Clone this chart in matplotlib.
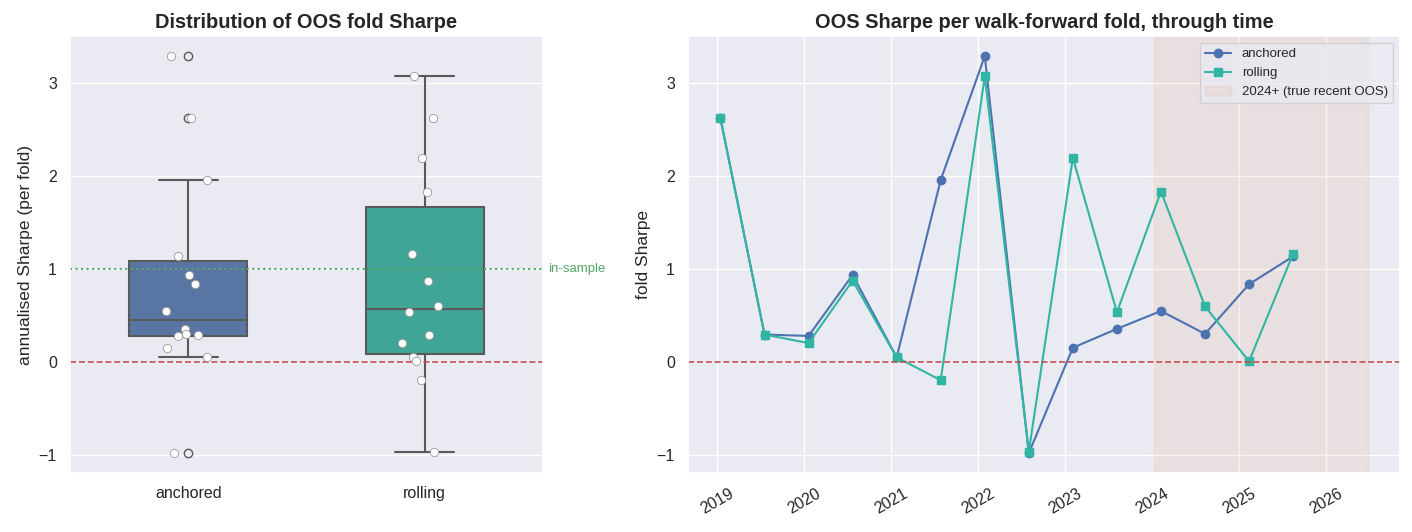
import numpy as np
import pandas as pd
import matplotlib
matplotlib.use("Agg")
import matplotlib.pyplot as plt
import seaborn as sns

# fold start dates (semiannual walk-forward folds)
fold_dates = ["2019-01-15", "2019-07-19", "2020-01-20", "2020-07-23", "2021-01-24",
              "2021-07-28", "2022-01-29", "2022-08-02", "2023-02-03", "2023-08-07",
              "2024-02-08", "2024-08-11", "2025-02-12", "2025-08-16"]
anchored = [2.62, 0.295, 0.28, 0.936, 0.05, 1.957, 3.29, -0.98, 0.153, 0.356,
            0.548, 0.302, 0.836, 1.135]
rolling = [2.62, 0.295, 0.203, 0.875, 0.05, -0.196, 3.07, -0.964, 2.196, 0.534,
           1.833, 0.598, 0.007, 1.164]
methods = ["anchored", "rolling"]
in_sample_sharpe = 1.0
recent_start = "2024-01-01"
recent_end = "2026-06-25"

blue = "#4C72B0"
teal = "#30b6a2"

sns.set_theme(style="darkgrid")
plt.rcParams["font.family"] = ["Liberation Sans", "DejaVu Sans"]
plt.rcParams["axes.labelsize"] = 12.5
plt.rcParams["xtick.labelsize"] = 11.5
plt.rcParams["ytick.labelsize"] = 11.5

df = pd.DataFrame({
    "method": ["anchored"] * len(anchored) + ["rolling"] * len(rolling),
    "sharpe": anchored + rolling,
})
dates = pd.to_datetime(fold_dates)

fig, (ax1, ax2) = plt.subplots(1, 2, figsize=(14.12, 5.32), dpi=100,
                               gridspec_kw={"width_ratios": [473, 712]})
fig.subplots_adjust(left=0.0496, right=0.9915, bottom=0.111, top=0.932, wspace=0.245)

# left: distribution
sns.boxplot(data=df, x="method", y="sharpe", hue="method", order=methods,
            palette=[blue, teal], width=0.5, legend=False, ax=ax1,
            linewidth=1.5, linecolor="0.35", flierprops={"marker": "o"})
np.random.seed(3)
sns.stripplot(data=df, x="method", y="sharpe", order=methods, color="white",
              edgecolor="gray", linewidth=0.6, size=6, jitter=True, ax=ax1)
ax1.axhline(0, color="#C44E52", ls="--", lw=1.2)
ax1.axhline(in_sample_sharpe, color="#55A868", ls=":", lw=1.5)
ax1.text(1.01, in_sample_sharpe, "in-sample", transform=ax1.get_yaxis_transform(),
         color="#55A868", fontsize=9.5, va="center", ha="left")
ax1.set_title("Distribution of OOS fold Sharpe", fontweight="bold", fontsize=14.4)
ax1.set_xlabel("")
ax1.set_ylabel("annualised Sharpe (per fold)")

# right: through time
ax2.plot(dates, anchored, marker="o", color=blue, lw=1.5, ms=6, label="anchored")
ax2.plot(dates, rolling, marker="s", color=teal, lw=1.5, ms=6, label="rolling")
ax2.axvspan(pd.Timestamp(recent_start), pd.Timestamp(recent_end), color="#DD8452",
            alpha=0.1, label="2024+ (true recent OOS)")
ax2.axhline(0, color="#C44E52", ls="--", lw=1.2)
ax2.set_title("OOS Sharpe per walk-forward fold, through time", fontweight="bold",
              fontsize=14.4)
ax2.set_ylabel("fold Sharpe")
ax2.tick_params(axis="x", rotation=30)
ax2.legend(loc="upper right", fontsize=9.5)

fig.savefig("out.png", dpi=100)
